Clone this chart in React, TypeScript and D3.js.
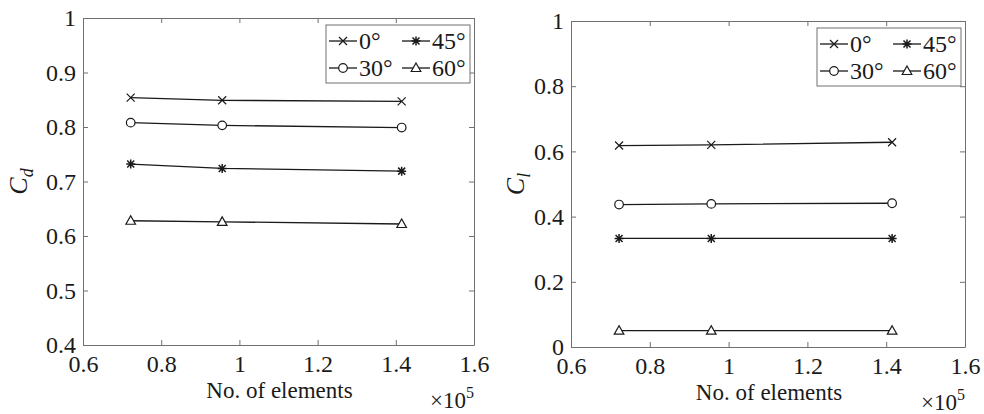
import { useEffect, useRef } from 'react';
import * as d3 from 'd3';

// element counts (x 10^5)
const elementCounts = [0.722, 0.956, 1.415];
const angleLabels = ['0°', '30°', '45°', '60°'];
const markerKinds = ['x', 'o', '*', '^'];

// drag coefficient
const cd0 = [0.854, 0.849, 0.847];
const cd30 = [0.808, 0.803, 0.799];
const cd45 = [0.732, 0.724, 0.719];
const cd60 = [0.628, 0.626, 0.622];

// lift coefficient
const cl0 = [0.618, 0.620, 0.628];
const cl30 = [0.437, 0.439, 0.441];
const cl45 = [0.333, 0.333, 0.333];
const cl60 = [0.05, 0.05, 0.05];

const xTicks = [0.6, 0.8, 1, 1.2, 1.4, 1.6];
const cdTicks = [0.4, 0.5, 0.6, 0.7, 0.8, 0.9, 1];
const clTicks = [0, 0.2, 0.4, 0.6, 0.8, 1];

const FONT = "'Liberation Serif', 'Times New Roman', serif";
const AXIS = '#707070';
const INK = '#1a1a1a';

const drawMarker = (g, kind, cx, cy) => {
    const m = g.append('g').attr('transform', `translate(${cx},${cy})`)
        .attr('stroke', INK).attr('stroke-width', 1.2).attr('fill', 'none');
    if (kind === 'x') {
        m.append('path').attr('d', 'M-4,-4L4,4M-4,4L4,-4');
    } else if (kind === 'o') {
        m.append('circle').attr('r', 4.3).attr('fill', 'white');
    } else if (kind === '*') {
        m.append('path').attr('d', 'M0,-4.5L0,4.5M-4.5,0L4.5,0M-3.5,-3.5L3.5,3.5M-3.5,3.5L3.5,-3.5')
            .attr('stroke-width', 1.5);
    } else {
        m.append('path').attr('d', 'M0,-5L4.8,3.5L-4.8,3.5Z').attr('fill', 'white');
    }
};

const App = () => {
    const svgRef = useRef();

    useEffect(() => {
        const svg = d3.select(svgRef.current);
        svg.selectAll('*').remove();

        const panels = [
            {
                left: 83, right: 474, top: 18, bottom: 345,
                yDomain: [0.4, 1], yTicks: cdTicks,
                series: [cd0, cd30, cd45, cd60],
                sub: 'd', labelX: 27,
            },
            {
                left: 571, right: 965, top: 21, bottom: 347,
                yDomain: [0, 1], yTicks: clTicks,
                series: [cl0, cl30, cl45, cl60],
                sub: 'l', labelX: 524,
            },
        ];

        panels.forEach((p) => {
            const x = d3.scaleLinear().domain([0.6, 1.6]).range([p.left, p.right]);
            const y = d3.scaleLinear().domain(p.yDomain).range([p.bottom, p.top]);
            const fmt = (d) => String(+(+d).toFixed(1));

            const styleAxis = (g) => {
                g.attr('font-family', null).attr('font-size', null);
                g.select('.domain').attr('stroke', AXIS).attr('stroke-width', 1);
                g.selectAll('.tick line').attr('stroke', AXIS);
                g.selectAll('.tick text').attr('fill', INK)
                    .style('font-family', FONT).style('font-size', '24px');
            };

            svg.append('g').attr('transform', `translate(0,${p.bottom})`)
                .call(d3.axisBottom(x).tickValues(xTicks).tickFormat(fmt)
                    .tickSizeInner(-5).tickSizeOuter(0).tickPadding(10))
                .call(styleAxis);
            svg.append('g').attr('transform', `translate(0,${p.top})`)
                .call(d3.axisTop(x).tickValues(xTicks).tickFormat('')
                    .tickSizeInner(-5).tickSizeOuter(0))
                .call(styleAxis);
            svg.append('g').attr('transform', `translate(${p.left},0)`)
                .call(d3.axisLeft(y).tickValues(p.yTicks).tickFormat(fmt)
                    .tickSizeInner(-5).tickSizeOuter(0).tickPadding(7))
                .call(styleAxis);
            svg.append('g').attr('transform', `translate(${p.right},0)`)
                .call(d3.axisRight(y).tickValues(p.yTicks).tickFormat('')
                    .tickSizeInner(-5).tickSizeOuter(0))
                .call(styleAxis);

            const line = d3.line().x((d, i) => x(elementCounts[i])).y((d) => y(d));

            p.series.forEach((vals, si) => {
                svg.append('path').datum(vals)
                    .attr('d', line)
                    .attr('fill', 'none')
                    .attr('stroke', INK)
                    .attr('stroke-width', 1.3);
                vals.forEach((v, i) => drawMarker(svg, markerKinds[si], x(elementCounts[i]), y(v)));
            });

            // legend
            const lw = 144;
            const lh = 58;
            const lx = p.right - 4 - lw;
            const ly = p.top + 7;
            const legend = svg.append('g').attr('transform', `translate(${lx},${ly})`);
            legend.append('rect').attr('width', lw).attr('height', lh)
                .attr('fill', 'white').attr('stroke', AXIS).attr('stroke-width', 1);
            // MATLAB fills columns row-wise: 0°, 45° / 30°, 60°
            const order = [0, 2, 1, 3];
            order.forEach((si, k) => {
                const col = k % 2;
                const row = Math.floor(k / 2);
                const ox = col === 0 ? 3 : 76;
                const oy = 16 + row * 27;
                legend.append('line').attr('x1', ox).attr('x2', ox + 28)
                    .attr('y1', oy).attr('y2', oy)
                    .attr('stroke', INK).attr('stroke-width', 1.3);
                drawMarker(legend, markerKinds[si], ox + 14, oy);
                legend.append('text').attr('x', ox + 30).attr('y', oy + 8)
                    .style('font-family', FONT).style('font-size', '24px').attr('fill', INK)
                    .text(angleLabels[si]);
            });

            // x label
            svg.append('text')
                .attr('x', (p.left + p.right) / 2 + 1)
                .attr('y', p.bottom + 53)
                .attr('text-anchor', 'middle')
                .style('font-family', FONT).style('font-size', '23px').attr('fill', INK)
                .text('No. of elements');

            // exponent
            const ex = svg.append('text')
                .attr('x', p.right)
                .attr('y', p.bottom + 63)
                .attr('text-anchor', 'end')
                .style('font-family', FONT).style('font-size', '23px').attr('fill', INK);
            ex.append('tspan').text('×10');
            ex.append('tspan').attr('dy', -10).style('font-size', '16px').text('5');

            // y label
            const yl = svg.append('text')
                .attr('transform', `translate(${p.labelX},${(p.top + p.bottom) / 2}) rotate(-90)`)
                .attr('text-anchor', 'middle')
                .style('font-family', FONT).style('font-size', '26px').style('font-style', 'italic')
                .attr('fill', INK);
            yl.append('tspan').text('C');
            yl.append('tspan').attr('dy', 6).style('font-size', '18px').text(p.sub);
        });
    }, []);

    return (
        <svg ref={svgRef} width={984} height={414}
            style={{ position: 'absolute', left: 0, top: 0, background: 'white' }} />
    );
};

export default App;
